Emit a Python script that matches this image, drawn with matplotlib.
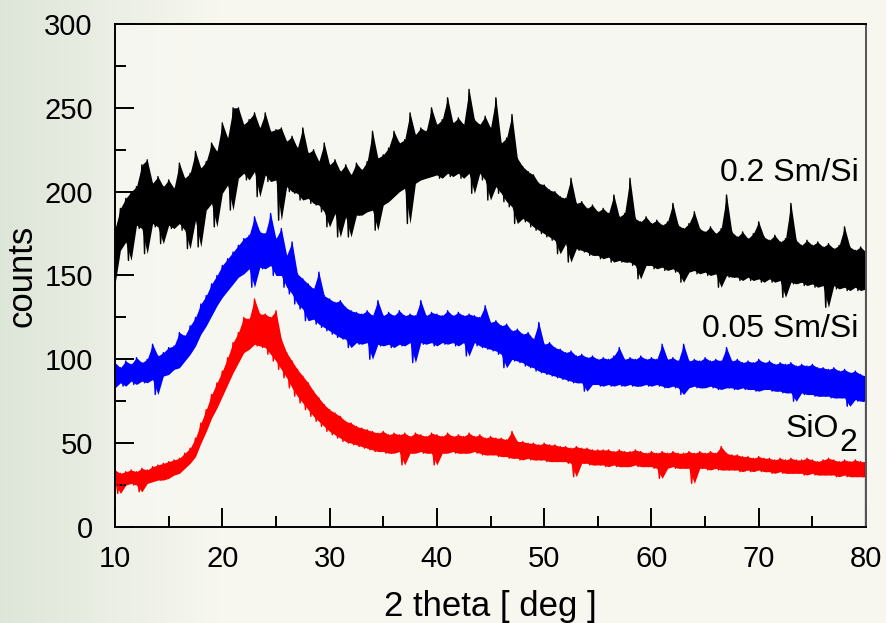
import numpy as np
import matplotlib.pyplot as plt
from matplotlib.ticker import MultipleLocator

plt.rcParams['font.family'] = ['Liberation Sans', 'DejaVu Sans']

# upper / lower reach of each noisy scan, counts, read every 0.5 deg from 10 to 80
sm02_hi = [178, 190, 196, 200, 203, 216, 219, 205, 209, 203,
           207, 202, 217, 208, 211, 224, 214, 218, 229, 224,
           241, 232, 250, 250, 240, 243, 247, 238, 247, 236,
           237, 238, 230, 233, 226, 238, 223, 225, 218, 229,
           216, 219, 212, 216, 210, 217, 213, 218, 236, 220,
           222, 226, 236, 229, 231, 247, 234, 238, 236, 250,
           240, 243, 256, 241, 244, 240, 261, 243, 240, 245,
           238, 256, 229, 232, 246, 220, 215, 212, 210, 205,
           204, 201, 200, 197, 196, 208, 193, 194, 190, 192,
           188, 190, 187, 198, 185, 187, 208, 184, 182, 185,
           181, 183, 180, 182, 193, 180, 178, 181, 188, 178,
           176, 179, 175, 178, 198, 176, 173, 176, 172, 175,
           182, 173, 171, 174, 170, 172, 193, 171, 168, 171,
           168, 170, 167, 169, 166, 168, 179, 167, 165, 167,
           164]
sm02_lo = [145, 165, 170, 159, 180, 178, 163, 181, 179, 169,
           180, 178, 181, 177, 166, 183, 167, 189, 193, 179,
           199, 204, 189, 208, 211, 207, 212, 197, 210, 206,
           207, 183, 203, 200, 199, 195, 196, 193, 192, 188,
           179, 187, 173, 185, 173, 186, 186, 188, 189, 177,
           192, 194, 197, 200, 202, 181, 205, 207, 208, 209,
           210, 208, 211, 209, 211, 208, 211, 199, 211, 207,
           195, 203, 199, 194, 191, 181, 184, 182, 179, 177,
           175, 173, 171, 163, 169, 158, 166, 165, 164, 162,
           162, 160, 161, 158, 159, 158, 158, 156, 148, 156,
           156, 154, 155, 153, 154, 152, 146, 152, 153, 151,
           152, 150, 151, 143, 150, 149, 149, 147, 149, 147,
           148, 146, 148, 146, 147, 137, 146, 145, 146, 144,
           145, 143, 144, 131, 144, 142, 143, 141, 143, 141,
           142]

sm005_hi = [98, 95, 99, 97, 101, 98, 100, 109, 102, 104,
            107, 108, 116, 114, 120, 125, 133, 138, 145, 150,
            156, 160, 164, 168, 172, 174, 185, 176, 175, 187,
            172, 178, 162, 170, 151, 148, 145, 142, 152, 138,
            136, 134, 135, 131, 129, 128, 127, 129, 126, 135,
            126, 128, 126, 129, 126, 127, 126, 135, 126, 128,
            127, 126, 129, 126, 128, 126, 127, 126, 125, 132,
            122, 123, 120, 121, 117, 118, 115, 116, 112, 122,
            109, 110, 107, 106, 104, 105, 102, 103, 101, 102,
            100, 101, 100, 102, 107, 100, 101, 100, 102, 100,
            101, 100, 109, 100, 101, 99, 109, 99, 100, 99,
            101, 99, 100, 99, 107, 99, 100, 98, 99, 98,
            100, 98, 99, 97, 98, 97, 98, 96, 97, 96,
            97, 95, 95, 94, 95, 93, 94, 92, 93, 91,
            90]
sm005_lo = [83, 86, 84, 87, 85, 87, 86, 88, 79, 90,
            91, 94, 95, 99, 103, 108, 115, 120, 126, 132,
            137, 141, 145, 149, 151, 154, 143, 155, 154, 156,
            150, 150, 143, 139, 133, 130, 123, 124, 121, 119,
            117, 115, 113, 112, 107, 110, 109, 110, 100, 109,
            108, 109, 107, 109, 108, 110, 98, 110, 109, 110,
            108, 110, 109, 110, 108, 110, 102, 110, 108, 107,
            106, 105, 103, 95, 100, 99, 98, 96, 95, 93,
            92, 91, 90, 89, 88, 87, 86, 86, 81, 85,
            85, 84, 85, 84, 85, 84, 85, 84, 84, 85,
            84, 85, 84, 83, 84, 83, 79, 83, 84, 83,
            83, 84, 83, 82, 83, 83, 82, 83, 82, 82,
            81, 82, 82, 81, 81, 80, 80, 75, 80, 79,
            79, 78, 78, 78, 77, 77, 77, 72, 76, 75,
            75]

sio2_hi = [34, 32, 33, 34, 33, 35, 34, 36, 37, 38,
           39, 40, 41, 44, 47, 53, 62, 70, 79, 86,
           93, 101, 110, 116, 125, 124, 136, 127, 127, 125,
           129, 112, 104, 99, 94, 90, 86, 81, 77, 73,
           70, 68, 66, 63, 62, 60, 59, 58, 57, 56,
           57, 55, 56, 55, 56, 54, 56, 55, 54, 56,
           55, 54, 56, 54, 55, 54, 56, 54, 55, 53,
           54, 53, 53, 52, 57, 51, 51, 50, 50, 49,
           50, 49, 49, 48, 48, 47, 48, 47, 47, 46,
           46, 46, 46, 45, 46, 45, 45, 46, 45, 44,
           45, 44, 45, 44, 45, 44, 44, 45, 44, 45,
           44, 45, 44, 48, 44, 43, 43, 42, 42, 41,
           42, 41, 41, 40, 41, 40, 41, 40, 40, 41,
           40, 39, 40, 41, 40, 39, 40, 39, 40, 39,
           39]
sio2_lo = [26, 20, 25, 26, 25, 21, 26, 27, 28, 28,
           29, 31, 32, 35, 38, 42, 50, 57, 65, 71,
           78, 85, 92, 98, 104, 106, 109, 108, 107, 103,
           99, 94, 89, 83, 78, 74, 70, 66, 63, 60,
           57, 55, 53, 51, 50, 49, 48, 47, 46, 45,
           45, 44, 44, 45, 37, 44, 44, 45, 44, 44,
           37, 44, 44, 45, 44, 44, 44, 45, 44, 43,
           43, 43, 42, 42, 41, 41, 40, 41, 40, 40,
           40, 39, 39, 39, 39, 38, 30, 38, 38, 37,
           37, 37, 36, 37, 36, 36, 36, 37, 36, 36,
           36, 35, 29, 35, 36, 35, 35, 35, 26, 35,
           35, 34, 35, 34, 34, 34, 34, 33, 34, 33,
           34, 33, 33, 32, 33, 32, 32, 32, 32, 31,
           32, 31, 31, 31, 31, 30, 31, 30, 30, 30,
           30]

series = [
    ('0.2 Sm/Si', sm02_lo, sm02_hi, 'black'),
    ('0.05 Sm/Si', sm005_lo, sm005_hi, '#0000ff'),
    ('SiO2', sio2_lo, sio2_hi, '#ff0000'),
]

fig = plt.figure(figsize=(8.87, 6.23), dpi=100)

# pale backdrop, greener on the left
bg = fig.add_axes([0, 0, 1, 1], zorder=-10)
grad = np.linspace(0, 1, 256)
left_col = np.array([0.87, 0.90, 0.85])
right_col = np.array([0.97, 0.97, 0.94])
w = np.clip(grad / 0.25, 0, 1)[None, :, None]
img = left_col * (1 - w) + right_col * w
img = np.repeat(img, 4, axis=0)
bg.imshow(img, aspect='auto', extent=[0, 1, 0, 1])
bg.axis('off')

ax = fig.add_axes([0.1297, 0.1541, 0.8466, 0.8074])
ax.set_facecolor('#f8f8f2')
ax.patch.set_alpha(0.85)

for name, lo, hi, col in series:
    lo = np.array(lo)
    hi = np.array(hi)
    assert len(lo) == len(hi) == 141, name
    x = np.linspace(10, 80, len(hi))
    ax.fill_between(x, lo, hi, color=col, linewidth=0)
    # scan trace: alternate between the upper and lower readings
    tx = np.column_stack([x[:-1], x[:-1] + 0.25]).ravel()
    ty = np.column_stack([hi[:-1], lo[1:]]).ravel()
    ax.plot(tx, ty, color=col, linewidth=1.0)
    ax.vlines(x[-1], 0, lo[-1], color=col, linewidth=1.5)

ax.text(79.3, 211, '0.2 Sm/Si', ha='right', va='center', fontsize=23)
ax.text(79.3, 118, '0.05 Sm/Si', ha='right', va='center', fontsize=23)
ax.text(77.5, 58.4, 'SiO', ha='right', va='center', fontsize=23)
ax.text(77.5, 50.0, '2', ha='left', va='center', fontsize=23)

ax.set_xlim(10, 80)
ax.set_ylim(0, 300)
ax.xaxis.set_major_locator(MultipleLocator(10))
ax.xaxis.set_minor_locator(MultipleLocator(5))
ax.yaxis.set_major_locator(MultipleLocator(50))
ax.yaxis.set_minor_locator(MultipleLocator(25))
ax.tick_params(which='both', direction='in', top=False, right=False, width=1.4)
ax.tick_params(which='major', length=14, labelsize=21)
ax.tick_params(axis='y', which='major', pad=16)
ax.tick_params(axis='x', which='major', pad=13)
ax.tick_params(which='minor', length=8)
for s in ax.spines.values():
    s.set_linewidth(1.4)
ax.spines['right'].set_color('#555555')

ax.set_xlabel('2 theta [ deg ]', fontsize=25, labelpad=12)
ax.set_ylabel('counts', fontsize=25, labelpad=4)

fig.savefig('out.png', dpi=100)
